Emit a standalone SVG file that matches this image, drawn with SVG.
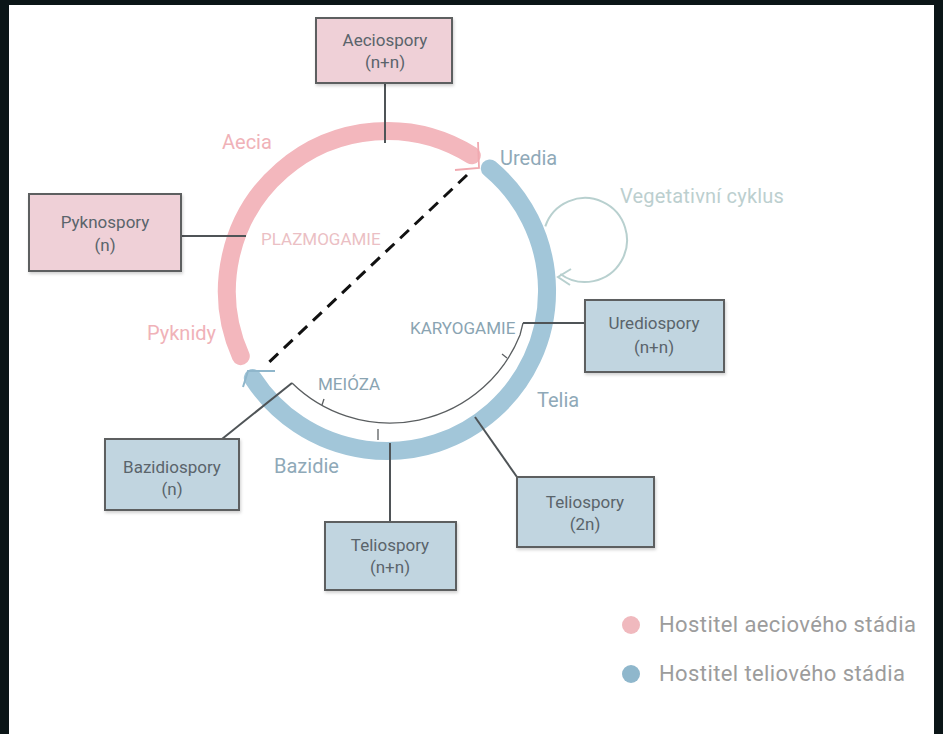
<svg xmlns="http://www.w3.org/2000/svg" width="943" height="734" viewBox="0 0 943 734">
<style>
.box{stroke:#5d5f61;stroke-width:2}
.pb{fill:#efd0d7}
.bb{fill:#c1d5e0}
.bt{font-family:Roboto,"Liberation Sans",sans-serif;font-size:17px;fill:#5a646b;text-anchor:middle}
.lbl{font-family:Roboto,"Liberation Sans",sans-serif;font-size:20px}
.pk{fill:#f0b2b8}
.bl{fill:#8fa9b8}
.cap{font-family:Roboto,"Liberation Sans",sans-serif;font-size:17px}
.conn{stroke:#4f5457;stroke-width:2;fill:none}
.thin{stroke:#5a5e60;stroke-width:1.3;fill:none}
.leg{font-family:Roboto,"Liberation Sans",sans-serif;font-size:22px;letter-spacing:0.4px;fill:#9c9c9c}
</style>
<defs>
<filter id="sh" x="-10%" y="-10%" width="130%" height="130%">
<feDropShadow dx="1" dy="2" stdDeviation="1.5" flood-color="#000" flood-opacity="0.18"/>
</filter>
</defs>
<rect x="0" y="0" width="943" height="734" fill="#0b1517"/>
<rect x="9" y="5" width="925" height="729" fill="#ffffff"/>

<g id="cycle">
<path d="M 240.8 356.1 A 160 160 0 0 1 471.8 155.3" fill="none" stroke="#f3b7bd" stroke-width="18" stroke-linecap="round"/>
<path d="M 489.8 168.4 A 160 160 0 1 1 252.8 378.1" fill="none" stroke="#a2c6d9" stroke-width="18" stroke-linecap="round"/>
<polyline points="478,142 479,168 455,170" fill="none" stroke="#f0a9b0" stroke-width="1.8"/>
<polyline points="275,371 248,371 243,387" fill="none" stroke="#8fb6cb" stroke-width="2"/>
</g>

<g id="connectors">
<line x1="467" y1="175" x2="264" y2="367" stroke="#111" stroke-width="3" stroke-dasharray="12 8"/>
<line class="conn" x1="385" y1="83" x2="385" y2="143"/>
<line class="conn" x1="182" y1="236" x2="246" y2="236"/>
<path class="conn" d="M 222 439 L 292 383"/>
<path class="thin" d="M 292 383 A 140 140 0 0 0 520 335 L 523 323"/>
<line class="conn" x1="523" y1="323" x2="585" y2="323"/>
<line class="thin" x1="507" y1="358" x2="502" y2="354"/>
<line class="thin" x1="378" y1="429" x2="378" y2="440"/>
<line class="thin" x1="322" y1="405" x2="324" y2="399"/>
<line class="conn" x1="390" y1="443" x2="390" y2="522"/>
<line class="conn" x1="475" y1="417" x2="517" y2="477"/>
<path d="M 545.3 226.3 A 42 42 0 1 1 560.3 274" fill="none" stroke="#b8d0cf" stroke-width="2"/>
<polyline points="571,269 558,277 570,285" fill="none" stroke="#b8d0cf" stroke-width="2"/>
</g>

<g id="aeciospory">
<rect class="box pb" x="316" y="18" width="136" height="65" filter="url(#sh)"/>
<text class="bt" x="385" y="46">Aeciospory</text>
<text class="bt" x="385" y="68">(n+n)</text>
</g>
<g id="pyknospory">
<rect class="box pb" x="29" y="194" width="152" height="77" filter="url(#sh)"/>
<text class="bt" x="105" y="228">Pyknospory</text>
<text class="bt" x="105" y="251">(n)</text>
</g>
<g id="urediospory">
<rect class="box bb" x="585" y="300" width="139" height="72" filter="url(#sh)"/>
<text class="bt" x="654" y="329">Urediospory</text>
<text class="bt" x="654" y="353">(n+n)</text>
</g>
<g id="bazidiospory">
<rect class="box bb" x="105" y="439" width="134" height="71" filter="url(#sh)"/>
<text class="bt" x="172" y="473">Bazidiospory</text>
<text class="bt" x="172" y="495">(n)</text>
</g>
<g id="teliospory-nn">
<rect class="box bb" x="325" y="522" width="131" height="68" filter="url(#sh)"/>
<text class="bt" x="390" y="551">Teliospory</text>
<text class="bt" x="390" y="573">(n+n)</text>
</g>
<g id="teliospory-2n">
<rect class="box bb" x="517" y="477" width="137" height="70" filter="url(#sh)"/>
<text class="bt" x="585" y="508">Teliospory</text>
<text class="bt" x="585" y="530">(2n)</text>
</g>

<g id="labels">
<text class="lbl pk" x="222" y="149">Aecia</text>
<text class="lbl bl" x="500" y="165">Uredia</text>
<text class="lbl" x="620" y="203" fill="#bccfcf" letter-spacing="0.2">Vegetativní cyklus</text>
<text class="cap" x="261" y="245" fill="#ebbfc4">PLAZMOGAMIE</text>
<text class="lbl pk" x="147" y="340">Pyknidy</text>
<text class="cap" x="410" y="334" fill="#8aa4b2">KARYOGAMIE</text>
<text class="cap" x="318" y="390" fill="#8aa4b2">MEIÓZA</text>
<text class="lbl bl" x="537" y="407">Telia</text>
<text class="lbl bl" x="274" y="473">Bazidie</text>
</g>

<g id="legend">
<circle cx="631" cy="625" r="9" fill="#f0b9be"/>
<text class="leg" x="659" y="632">Hostitel aeciového stádia</text>
<circle cx="631" cy="674" r="9" fill="#8fb7cc"/>
<text class="leg" x="659" y="681">Hostitel teliového stádia</text>
</g>
</svg>
